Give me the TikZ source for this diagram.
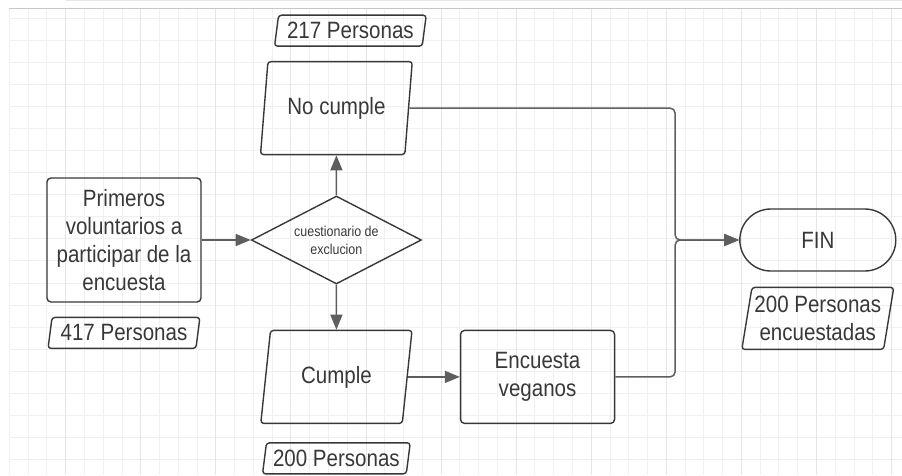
\documentclass[tikz,border=0pt]{standalone}
\usepackage{fontspec}
\setmainfont{Liberation Sans}[FakeStretch=0.87]
\usepackage{tikz}
\usetikzlibrary{shapes,arrows.meta,positioning}
\definecolor{ink}{HTML}{383838}
\definecolor{wire}{HTML}{5E5E5E}
\definecolor{gridline}{HTML}{F0F0F0}
\definecolor{gridmajor}{HTML}{E6E6E6}
\newcommand{\bigtext}{\fontsize{23.6}{28}\selectfont}

\begin{document}
\begin{tikzpicture}[
    x=1pt, y=1pt,
    >={Triangle[length=15pt,width=12pt]},
    node distance=45pt and 49pt,
    box/.style={rectangle, draw=ink, line width=1.4pt, rounded corners=4pt,
                minimum width=154pt, minimum height=93pt, align=center,
                text=ink, font=\bigtext},
    data/.style={trapezium, trapezium left angle=78, trapezium right angle=102,
                 trapezium stretches=true, draw=ink, line width=1.4pt,
                 rounded corners=3pt, minimum width=152pt, minimum height=93pt,
                 inner sep=2pt, align=center, text=ink, font=\bigtext},
    tag/.style={data, trapezium left angle=79, trapezium right angle=101,
                minimum width=152pt, minimum height=31pt, inner sep=1pt},
    decision/.style={diamond, draw=ink, line width=1.4pt, aspect=1.93,
                     minimum width=170pt, minimum height=88pt, inner sep=0pt,
                     align=center, text=ink, font=\fontsize{14.3}{18}\selectfont},
    term/.style={box, rounded corners=31pt, minimum width=156pt, minimum height=62pt},
    arrow/.style={->, draw=wire, line width=1.5pt, rounded corners=5pt}
]
\useasboundingbox (0,0) rectangle (902,-475);

% Grid
\draw[gridline, line width=0.8pt, shift={(9.3,-18.3)}]
    (0,10.3) grid[xstep=18.77pt, ystep=22.05pt] (892.7,-456.7);
\draw[gridmajor, line width=0.8pt, shift={(65.6,0)}]
    (0,-8) grid[xstep=75.08pt, ystep=1000pt] (836.4,-475);
\draw[gray!45, line width=1pt] (9.3,-8) -- (902,-8);

% Nodes
\node[box, minimum height=124pt] (prim) at (124,-240)
    {Primeros\\voluntarios a\\participar de la\\encuesta};
\node[decision, right=49pt of prim] (cuest) {cuestionario de\\exclucion};
\node[data, above=40pt of cuest] (nocumple) {No cumple};
\node[data, below=45pt of cuest] (cumple) {Cumple};
\node[tag, above=14pt of nocumple, xshift=14pt] (lbl217) {217 Personas};
\node[tag, below=14pt of prim] (lbl417) {417 Personas};
\node[tag, below=18pt of cumple, minimum width=148pt] (lbl200) {200 Personas};
\node[box, right=52pt of cumple] (encuesta) {Encuesta\\veganos};
\node[term, right=317pt of cuest] (fin) {FIN};
\node[tag, below=15pt of fin, minimum height=62pt, trapezium left angle=78,
      trapezium right angle=102] (lbl200e) {200 Personas\\encuestadas};
\coordinate[left=64pt of fin.west] (merge);

% Arrows
\draw[arrow] (prim) -- (cuest);
\draw[arrow] (cuest) -- (nocumple);
\draw[arrow] (cuest) -- (cumple);
\draw[arrow] (cumple.east) -- (encuesta);
\draw[arrow] (nocumple.east) -| (merge) -- (fin.west);
\draw[arrow] (encuesta.east) -| (merge) -- (fin.west);
\end{tikzpicture}
\end{document}
